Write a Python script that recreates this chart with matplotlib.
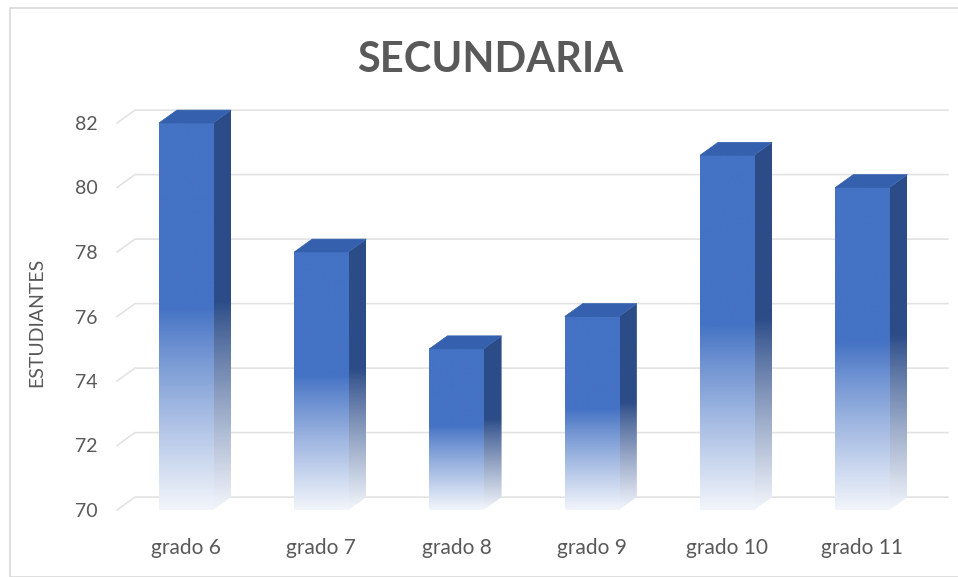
import matplotlib.pyplot as plt
import numpy as np
from matplotlib.patches import Polygon, Rectangle
from matplotlib.colors import to_rgb

# chart data
grados = ["grado 6", "grado 7", "grado 8", "grado 9", "grado 10", "grado 11"]
estudiantes = [82, 78, 75, 76, 81, 80]
y_ticks = [70, 72, 74, 76, 78, 80, 82]

plt.rcParams['font.family'] = ['Lato', 'DejaVu Sans']

front_col = np.array(to_rgb("#4472C4"))
side_col = np.array(to_rgb("#2C4C88"))
top_col = "#3560AD"
fade_col = np.array(to_rgb("#F2F5FB"))
grid_col = "#E3E3E3"
text_col = "#595959"

fig = plt.figure(figsize=(9.58, 5.77), dpi=100)
fig.patches.append(Rectangle((10 / 958, 0), 1.2, 1 - 8 / 577, transform=fig.transFigure,
                             fill=False, edgecolor="#D9D9D9", linewidth=1.2))

ax = fig.add_axes([117 / 958, 1 - 510 / 577, 813 / 958, 387 / 577])
ymin, ymax = 70, 82
xmin, xmax = -0.51, 5.5
ax.set_xlim(xmin, xmax)
ax.set_ylim(ymin, ymax)

w = 0.40    # front width
dx = 0.133  # depth in x
dy = 0.40   # depth in y


def gradient(color, n=200):
    t = np.linspace(0, 1, n)  # 0 = top, 1 = bottom
    mix = np.clip((t - 0.48) / 0.52, 0, 1) ** 0.9
    rgb = color[None, :] * (1 - mix[:, None]) + fade_col[None, :] * mix[:, None]
    return rgb[:, None, :]


# gridlines with small 3D diagonal on the left
for v in y_ticks:
    ax.plot([xmin, xmin + dx, xmax + dx], [v, v + dy, v + dy], color=grid_col,
            linewidth=1.2, zorder=1, clip_on=False)

for i, v in enumerate(estudiantes):
    xl, xr = i - w / 2, i + w / 2
    # front face
    ax.imshow(gradient(front_col), extent=(xl, xr, ymin, v), aspect='auto',
              zorder=3, clip_on=False, interpolation='bilinear')
    # side face
    side = Polygon([(xr, ymin), (xr + dx, ymin + dy), (xr + dx, v + dy), (xr, v)],
                   closed=True, facecolor='none', edgecolor='none', transform=ax.transData)
    im = ax.imshow(gradient(side_col), extent=(xr, xr + dx, ymin, v + dy), aspect='auto',
                   zorder=2.5, interpolation='bilinear')
    im.set_clip_box(fig.bbox)
    im.set_clip_path(side)
    # top face
    ax.add_patch(Polygon([(xl, v), (xr, v), (xr + dx, v + dy), (xl + dx, v + dy)],
                         closed=True, facecolor=top_col, edgecolor=top_col,
                         linewidth=0.5, zorder=4, clip_on=False))

ax.set_xlim(xmin, xmax)
ax.set_ylim(ymin, ymax)
ax.set_yticks(y_ticks)
ax.set_yticklabels([str(t) for t in y_ticks])
ax.set_xticks(range(len(grados)))
ax.set_xticklabels(grados)
ax.tick_params(length=0, labelsize=14, colors=text_col)
ax.tick_params(axis='x', labelsize=15, pad=20)
ax.tick_params(axis='y', pad=14)
for s in ax.spines.values():
    s.set_visible(False)
ax.patch.set_visible(False)

fig.text(37 / 958, 1 - 322 / 577, "ESTUDIANTES", rotation=90, ha='center', va='center',
         fontsize=14, color=text_col)
fig.text(490 / 958, 1 - 60 / 577, "SECUNDARIA", ha='center', va='center',
         fontsize=30, fontweight='bold', color=text_col)

fig.savefig("out.png", dpi=100)
